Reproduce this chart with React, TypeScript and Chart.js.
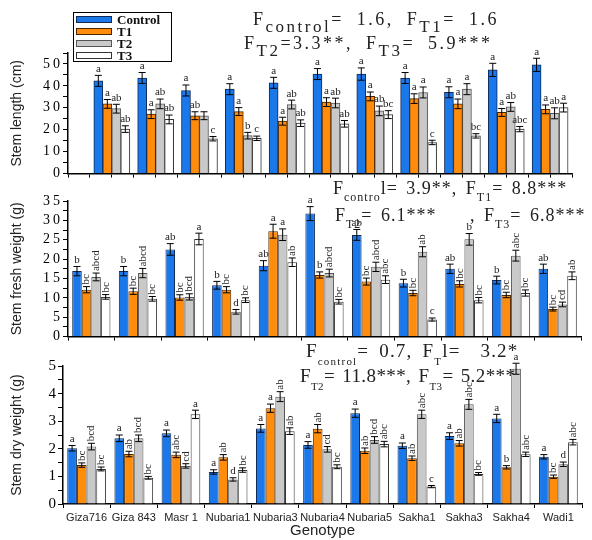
import React, { useEffect, useRef } from "react";
import { Chart, registerables } from "chart.js";
Chart.register(...registerables);

const GENOTYPES = ["Giza716", "Giza 843", "Masr 1", "Nubaria1", "Nubaria3", "Nubaria4", "Nubaria5", "Sakha1", "Sakha3", "Sakha4", "Wadi1"];
const SERIES = ["Control", "T1", "T2", "T3"];

// Stem length (cm)
const LEN_CONTROL = [42.3, 43.6, 37.9, 38.5, 41.4, 45.4, 45.4, 43.6, 37.1, 47.3, 49.6];
const LEN_T1 = [31.8, 27.1, 26.4, 28.3, 23.9, 32.6, 35.2, 34.2, 31.8, 27.9, 29.3];
const LEN_T2 = [29.6, 31.8, 26.4, 17.3, 31.5, 32.2, 28.6, 37.0, 38.5, 30.4, 27.5];
const LEN_T3 = [20.3, 24.7, 15.9, 16.1, 23.0, 22.7, 26.9, 14.2, 17.2, 20.3, 30.1];
const LEN_ERR_CONTROL = [2.5, 2.5, 2.5, 2.5, 2.5, 2.5, 2.8, 2.5, 2.5, 3.0, 3.0];
const LEN_ERR_T1 = [2.0, 2.0, 1.8, 1.8, 1.8, 2.0, 2.0, 2.2, 2.2, 1.8, 2.0];
const LEN_ERR_T2 = [2.0, 2.2, 1.8, 1.5, 2.0, 2.2, 2.2, 2.5, 2.5, 2.0, 2.5];
const LEN_ERR_T3 = [1.5, 2.0, 1.0, 1.0, 1.5, 1.5, 1.8, 1.0, 1.0, 1.2, 2.0];
const LEN_LET_CONTROL = ["a", "a", "a", "a", "a", "a", "a", "a", "a", "a", "a"];
const LEN_LET_T1 = ["a", "a", "ab", "a", "a", "a", "a", "a", "a", "a", "a"];
const LEN_LET_T2 = ["ab", "ab", "", "b", "ab", "ab", "ab", "a", "a", "ab", "ab"];
const LEN_LET_T3 = ["ab", "ab", "c", "c", "ab", "ab", "bc", "c", "bc", "abc", "a"];

// Stem fresh weight (g)
const FW_CONTROL = [16.9, 16.9, 22.5, 13.25, 18.3, 31.75, 26.25, 13.8, 17.5, 14.6, 17.5];
const FW_T1 = [12.1, 11.7, 10.1, 12.1, 27.2, 15.9, 14.2, 11.25, 13.6, 10.75, 7.1];
const FW_T2 = [15.4, 16.4, 10.25, 6.4, 26.3, 16.4, 18.0, 21.9, 25.1, 20.9, 8.3];
const FW_T3 = [10.25, 9.75, 25.2, 9.4, 19.2, 9.0, 14.7, 4.4, 9.4, 11.25, 15.7];
const FW_ERR_CONTROL = [1.2, 1.2, 1.5, 1.0, 1.3, 1.8, 1.4, 1.0, 1.2, 1.0, 1.2];
const FW_ERR_T1 = [0.8, 0.8, 0.7, 0.8, 1.8, 0.8, 0.9, 0.7, 0.8, 0.7, 0.5];
const FW_ERR_T2 = [1.0, 1.2, 0.8, 0.6, 1.5, 1.0, 1.2, 1.3, 1.5, 1.4, 0.6];
const FW_ERR_T3 = [0.6, 0.6, 1.5, 0.6, 1.1, 0.6, 1.0, 0.4, 0.7, 0.8, 1.0];
const FW_LET_CONTROL = ["b", "b", "ab", "b", "ab", "a", "ab", "b", "ab", "b", "ab"];
const FW_LET_T1 = ["bc", "bc", "bc", "bc", "a", "b", "bc", "bc", "bc", "bc", "bc"];
const FW_LET_T2 = ["abcd", "abcd", "bcd", "d", "a", "abcd", "abcd", "ab", "b", "abc", "cd"];
const FW_LET_T3 = ["bc", "bc", "a", "bc", "ab", "bc", "abc", "c", "bc", "bc", "ab"];

// Stem dry weight (g)
const DW_CONTROL = [2.02, 2.38, 2.56, 1.16, 2.74, 2.14, 3.29, 2.11, 2.46, 3.1, 1.71];
const DW_T1 = [1.41, 1.81, 1.78, 1.69, 3.47, 2.73, 1.93, 1.66, 2.2, 1.33, 0.99];
const DW_T2 = [2.08, 2.38, 1.38, 0.89, 3.89, 1.98, 2.32, 3.25, 3.61, 4.9, 1.44];
const DW_T3 = [1.27, 0.95, 3.25, 1.23, 2.64, 1.35, 2.17, 0.63, 1.09, 1.8, 2.24];
const DW_ERR_CONTROL = [0.1, 0.12, 0.12, 0.08, 0.14, 0.12, 0.15, 0.1, 0.12, 0.15, 0.08];
const DW_ERR_T1 = [0.08, 0.1, 0.1, 0.1, 0.15, 0.15, 0.1, 0.08, 0.1, 0.06, 0.06];
const DW_ERR_T2 = [0.12, 0.12, 0.08, 0.06, 0.18, 0.1, 0.12, 0.15, 0.18, 0.2, 0.08];
const DW_ERR_T3 = [0.07, 0.05, 0.15, 0.08, 0.12, 0.07, 0.1, 0.04, 0.05, 0.08, 0.1];
const DW_LET_CONTROL = ["a", "a", "a", "a", "a", "a", "a", "a", "a", "a", "a"];
const DW_LET_T1 = ["bc", "ab", "abc", "ab", "a", "ab", "ab", "ab", "ab", "b", "bc"];
const DW_LET_T2 = ["bcd", "bcd", "cd", "d", "ab", "cd", "bcd", "abc", "abc", "a", "d"];
const DW_LET_T3 = ["bc", "bc", "a", "bc", "ab", "bc", "abc", "c", "bc", "abc", "abc"];

const FILL = ["#1a78ea", "#ff8c0a", "#c9c9c9", "#ffffff"];
const BORDER = ["#0f2a55", "#4a2600", "#555555", "#333333"];
const W = 592;

type PanelCfg = {
  values: number[][];
  errors: number[][];
  letters: string[][];
  yMax: number;
  yStep: number;
  yLabelEvery: number;
  yTitle: string;
  titleSize: number;
  tickSize: number;
  linearX: boolean;
  xLabels: boolean;
  area: { left: number; right: number; top: number; bottom: number };
  top: number;
  height: number;
  rotate: boolean;
  spacing: string;
};

const PANELS: PanelCfg[] = [
  {
    values: [LEN_CONTROL, LEN_T1, LEN_T2, LEN_T3],
    errors: [LEN_ERR_CONTROL, LEN_ERR_T1, LEN_ERR_T2, LEN_ERR_T3],
    letters: [LEN_LET_CONTROL, LEN_LET_T1, LEN_LET_T2, LEN_LET_T3],
    yMax: 55, yStep: 5, yLabelEvery: 10,
    yTitle: "Stem length (cm)", titleSize: 14, tickSize: 14,
    linearX: true, xLabels: false,
    area: { left: 68, right: 572, top: 53, bottom: 178 },
    top: 0, height: 182, rotate: false, spacing: "3px",
  },
  {
    values: [FW_CONTROL, FW_T1, FW_T2, FW_T3],
    errors: [FW_ERR_CONTROL, FW_ERR_T1, FW_ERR_T2, FW_ERR_T3],
    letters: [FW_LET_CONTROL, FW_LET_T1, FW_LET_T2, FW_LET_T3],
    yMax: 35, yStep: 2.5, yLabelEvery: 5,
    yTitle: "Stem fresh weight (g)", titleSize: 14, tickSize: 14,
    linearX: false, xLabels: false,
    area: { left: 68, right: 581, top: 19, bottom: 159 },
    top: 182, height: 163, rotate: true, spacing: "3px",
  },
  {
    values: [DW_CONTROL, DW_T1, DW_T2, DW_T3],
    errors: [DW_ERR_CONTROL, DW_ERR_T1, DW_ERR_T2, DW_ERR_T3],
    letters: [DW_LET_CONTROL, DW_LET_T1, DW_LET_T2, DW_LET_T3],
    yMax: 5, yStep: 0.5, yLabelEvery: 1,
    yTitle: "Stem dry weight (g)", titleSize: 14, tickSize: 15,
    linearX: false, xLabels: true,
    area: { left: 63, right: 582, top: 21, bottom: 159 },
    top: 345, height: 195, rotate: true, spacing: "0px",
  },
];

function makeAnnotPlugin(p: PanelCfg) {
  return {
    id: "annot",
    beforeDraw(chart: any) {
      chart.ctx.letterSpacing = "0px";
    },
    afterDatasetsDraw(chart: any) {
      const ctx = chart.ctx;
      const ys = chart.scales.y;
      ctx.save();
      ctx.letterSpacing = "0px";
      chart.data.datasets.forEach((_ds: any, di: number) => {
        const meta = chart.getDatasetMeta(di);
        meta.data.forEach((el: any, i: number) => {
          const v = p.values[di][i];
          const e = p.errors[di][i];
          const x = el.x;
          const yt = ys.getPixelForValue(v + e);
          const yb = ys.getPixelForValue(Math.max(0, v - e));
          ctx.strokeStyle = "#000";
          ctx.lineWidth = 1;
          ctx.beginPath();
          ctx.moveTo(x, yt);
          ctx.lineTo(x, yb);
          ctx.moveTo(x - 3.5, yt);
          ctx.lineTo(x + 3.5, yt);
          ctx.moveTo(x - 3.5, yb);
          ctx.lineTo(x + 3.5, yb);
          ctx.stroke();
          const t = p.letters[di][i];
          if (!t) return;
          ctx.fillStyle = "#222";
          ctx.font = "11px 'Liberation Serif'";
          if (p.rotate && di > 0 && t.length > 1) {
            ctx.save();
            ctx.translate(x, yt - 2);
            ctx.rotate(-Math.PI / 2);
            ctx.textAlign = "left";
            ctx.textBaseline = "middle";
            ctx.fillText(t, 0, 0);
            ctx.restore();
          } else {
            ctx.textAlign = "center";
            ctx.textBaseline = "bottom";
            ctx.fillText(t, x, yt - 1);
          }
        });
      });
      ctx.restore();
      // tick labels (z = 1) are drawn after this hook, with wider spacing
      ctx.letterSpacing = p.spacing;
    },
  };
}

function buildConfig(p: PanelCfg): any {
  const datasets = SERIES.map((name, si) => ({
    label: name,
    data: p.linearX ? p.values[si].map((v, i) => ({ x: i + 1, y: v })) : p.values[si],
    backgroundColor: FILL[si],
    borderColor: BORDER[si],
    borderWidth: 1,
    ...(p.linearX ? { barThickness: 9 } : { categoryPercentage: 0.82, barPercentage: 1 }),
  }));
  const xFit = (s: any) => {
    s.height = p.height - p.area.bottom;
  };
  const xScale = p.linearX
    ? {
        type: "linear",
        min: 0,
        max: 11.5,
        offset: false,
        ticks: { stepSize: 0.5, display: false },
        grid: { drawOnChartArea: false, drawTicks: true, tickLength: 4, color: "#000", offset: false },
        border: { color: "#000", width: 1.5 },
        afterFit: xFit,
      }
    : {
        type: "category",
        offset: true,
        ticks: {
          display: p.xLabels,
          autoSkip: false,
          maxRotation: 0,
          color: "#222",
          padding: 3,
          font: { family: "'Liberation Sans'", size: 11 },
        },
        grid: { drawOnChartArea: false, drawTicks: true, tickLength: 4, color: "#000", offset: true },
        border: { color: "#000", width: 1.5 },
        title: {
          display: p.xLabels,
          text: "Genotype",
          color: "#222",
          padding: { top: 0, bottom: 0 },
          font: { family: "'Liberation Sans'", size: 15 },
        },
        afterFit: xFit,
      };
  return {
    type: "bar",
    data: { labels: p.linearX ? undefined : GENOTYPES, datasets },
    options: {
      animation: false,
      responsive: false,
      devicePixelRatio: 1,
      events: [],
      layout: { padding: { left: 0, right: W - p.area.right, top: p.area.top, bottom: 0 } },
      plugins: { legend: { display: false }, tooltip: { enabled: false } },
      scales: {
        x: xScale,
        y: {
          min: 0,
          max: p.yMax,
          ticks: {
            z: 1,
            stepSize: p.yStep,
            autoSkip: false,
            color: "#000",
            padding: p.spacing === "0px" ? 2 : 0,
            font: { family: "'Liberation Serif'", size: p.tickSize },
            callback: (v: number) => {
              const r = v / p.yLabelEvery;
              return Math.abs(r - Math.round(r)) < 1e-6 ? String(Math.round(v)) : "";
            },
          },
          grid: { drawOnChartArea: false, drawTicks: true, tickLength: 5, color: "#000" },
          border: { color: "#000", width: 1.5 },
          title: {
            display: true,
            text: p.yTitle,
            color: "#222",
            padding: { top: 9, bottom: 0 },
            font: { family: "'Liberation Sans'", size: p.titleSize },
          },
          afterFit: (s: any) => {
            s.width = p.area.left;
          },
        },
      },
    },
    plugins: [makeAnnotPlugin(p)],
  };
}

function Panel({ p }: { p: PanelCfg }) {
  const ref = useRef<HTMLCanvasElement>(null);
  useEffect(() => {
    const chart = new Chart(ref.current as HTMLCanvasElement, buildConfig(p));
    return () => chart.destroy();
  }, []);
  return (
    <canvas
      ref={ref}
      width={W}
      height={p.height}
      style={{ position: "absolute", left: 0, top: p.top, width: W, height: p.height }}
    />
  );
}

type Seg = [string, boolean];
type FLine = { left: number; top: number; size: number; sub: number; drop: number; ls: number; ws: number; parts: Seg[] };

const F_LINES: FLine[] = [
  { left: 253, top: 10, size: 18, sub: 17, drop: 7, ls: 2.5, ws: 6, parts: [["F", false], ["control", true], ["= 1.6, F", false], ["T1", true], ["= 1.6", false]] },
  { left: 244, top: 34, size: 18, sub: 17, drop: 7, ls: 2.5, ws: 6, parts: [["F", false], ["T2", true], ["=3.3**, F", false], ["T3", true], ["= 5.9***", false]] },
  { left: 333, top: 179, size: 18, sub: 12, drop: 7, ls: 1, ws: 3, parts: [["F", false], ["contro", true], ["l= 3.9**, F", false], ["T1", true], ["= 8.8***", false]] },
  { left: 335, top: 206, size: 18, sub: 12, drop: 7, ls: 1, ws: 3, parts: [["F", false], ["T2", true], ["= 6.1***", false]] },
  { left: 470, top: 206, size: 18, sub: 12, drop: 7, ls: 1, ws: 3, parts: [[", F", false], ["T3", true], ["= 6.8***", false]] },
  { left: 306, top: 341, size: 19, sub: 11, drop: 8, ls: 1.2, ws: 4, parts: [["F", false], ["control", true], ["= 0.7, F", false], ["T", true], ["l=  3.2*", false]] },
  { left: 300, top: 366, size: 19, sub: 11, drop: 8, ls: 0.4, ws: 2, parts: [["F", false], ["T2", true], ["= 11.8***, F", false], ["T3", true], ["= 5.2***", false]] },
];

function FText({ f }: { f: FLine }) {
  return (
    <div
      style={{
        position: "absolute",
        left: f.left,
        top: f.top,
        fontFamily: "'Liberation Serif', serif",
        fontSize: f.size,
        lineHeight: 1,
        color: "#222",
        whiteSpace: "pre",
        letterSpacing: f.ls,
        wordSpacing: f.ws,
        zIndex: 2,
      }}
    >
      {f.parts.map(([t, sub], i) =>
        sub ? (
          <span key={i} style={{ fontSize: f.sub, position: "relative", top: f.drop }}>
            {t}
          </span>
        ) : (
          <span key={i}>{t}</span>
        )
      )}
    </div>
  );
}

function Legend() {
  return (
    <div
      style={{
        position: "absolute",
        left: 73,
        top: 12,
        width: 99,
        height: 50,
        border: "1px solid #000",
        background: "#fff",
        boxSizing: "border-box",
        padding: "0 2px",
        zIndex: 3,
      }}
    >
      {SERIES.map((s, i) => (
        <div key={s} style={{ display: "flex", alignItems: "center", height: 12 }}>
          <span
            style={{
              display: "inline-block",
              width: 36,
              height: 7,
              boxSizing: "border-box",
              background: FILL[i],
              border: `1.5px solid ${BORDER[i]}`,
            }}
          />
          <span style={{ marginLeft: 5, fontFamily: "'Liberation Serif', serif", fontWeight: "bold", fontSize: 13, color: "#111", lineHeight: 1 }}>
            {s}
          </span>
        </div>
      ))}
    </div>
  );
}

export default function App() {
  return (
    <div style={{ position: "absolute", left: 0, top: 0, width: W, height: 540, background: "#fff", overflow: "hidden" }}>
      {PANELS.map((p, i) => (
        <Panel key={i} p={p} />
      ))}
      {F_LINES.map((f, i) => (
        <FText key={i} f={f} />
      ))}
      <Legend />
    </div>
  );
}
